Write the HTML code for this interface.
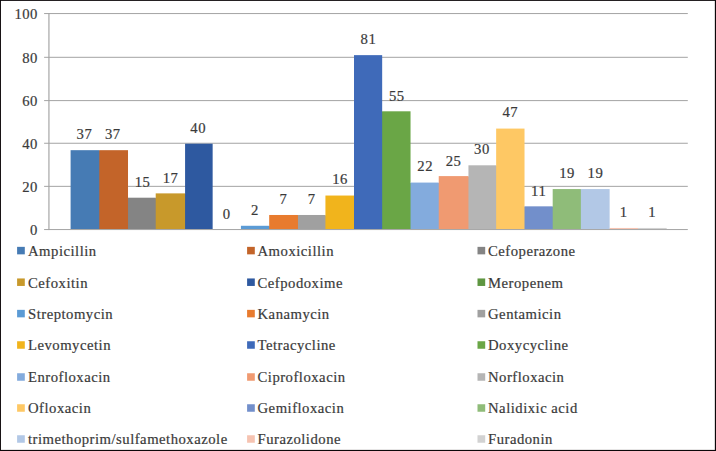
<!DOCTYPE html>
<html><head><meta charset="utf-8"><title>Chart</title>
<style>
html,body{margin:0;padding:0;background:#fff;}
body{width:716px;height:451px;overflow:hidden;}
svg{display:block;position:absolute;left:0;top:0;}
text{font-family:"Liberation Serif",serif;font-size:14.7px;fill:#3a3a3a;stroke:#3a3a3a;stroke-width:0.2px;}
.e{text-anchor:end;letter-spacing:0.45px;font-size:15.2px}
.m{text-anchor:middle;letter-spacing:0.55px;font-size:15.2px}
.l{letter-spacing:0.5px}
</style></head><body>
<svg width="716" height="451" viewBox="0 0 716 451">
<rect x="0" y="0" width="716" height="451" fill="#ffffff"/>
<rect x="48.10" y="13.05" width="1.6" height="217" fill="#bdbdbd"/>
<g fill="#a4a4a4">
<rect x="44.10" y="185.85" width="643.70" height="1"/>
<rect x="44.10" y="142.75" width="643.70" height="1"/>
<rect x="44.10" y="100.10" width="643.70" height="1"/>
<rect x="44.10" y="56.80" width="643.70" height="1"/>
<rect x="44.10" y="13.05" width="643.70" height="1"/>
</g>
<g class="e">
<text x="37.85" y="235.05">0</text>
<text x="37.85" y="191.85">20</text>
<text x="37.85" y="148.75">40</text>
<text x="37.85" y="106.10">60</text>
<text x="37.85" y="62.80">80</text>
<text x="37.85" y="19.05">100</text>
</g>
<rect x="70.60" y="150.18" width="28.70" height="78.92" fill="#467BB4"/>
<rect x="99" y="150.68" width="1" height="78.42" fill="#467BB4"/>
<rect x="99.30" y="150.18" width="28.71" height="78.92" fill="#C36429"/>
<rect x="128" y="198.20" width="1" height="30.90" fill="#C36429"/>
<rect x="128.01" y="197.70" width="27.70" height="31.40" fill="#848484"/>
<rect x="155" y="198.20" width="1" height="30.90" fill="#848484"/>
<rect x="155.71" y="193.38" width="29.37" height="35.72" fill="#C8992B"/>
<rect x="185" y="193.88" width="1" height="35.22" fill="#C8992B"/>
<rect x="185.08" y="143.70" width="27.57" height="85.40" fill="#2E59A0"/>
<rect x="240.92" y="225.78" width="28.27" height="3.32" fill="#5B9BD5"/>
<rect x="269" y="226.28" width="1" height="2.82" fill="#5B9BD5"/>
<rect x="269.19" y="214.98" width="28.77" height="14.12" fill="#E87B2E"/>
<rect x="297" y="215.48" width="1" height="13.62" fill="#E87B2E"/>
<rect x="297.96" y="214.98" width="27.47" height="14.12" fill="#A0A0A0"/>
<rect x="325" y="215.48" width="1" height="13.62" fill="#A0A0A0"/>
<rect x="325.43" y="195.54" width="28.57" height="33.56" fill="#F1B41C"/>
<rect x="353" y="196.04" width="1" height="33.06" fill="#F1B41C"/>
<rect x="354.00" y="55.14" width="28.17" height="173.96" fill="#3F6AB9"/>
<rect x="382" y="111.80" width="1" height="117.30" fill="#3F6AB9"/>
<rect x="382.17" y="111.30" width="28.37" height="117.80" fill="#6AA646"/>
<rect x="410" y="183.08" width="1" height="46.02" fill="#6AA646"/>
<rect x="410.54" y="182.58" width="28.20" height="46.52" fill="#83ABDD"/>
<rect x="438" y="183.08" width="1" height="46.02" fill="#83ABDD"/>
<rect x="438.74" y="176.10" width="29.71" height="53.00" fill="#F09A71"/>
<rect x="468" y="176.60" width="1" height="52.50" fill="#F09A71"/>
<rect x="468.45" y="165.30" width="27.70" height="63.80" fill="#B5B5B5"/>
<rect x="496" y="165.80" width="1" height="63.30" fill="#B5B5B5"/>
<rect x="496.15" y="128.58" width="28.37" height="100.52" fill="#FEC864"/>
<rect x="524" y="206.84" width="1" height="22.26" fill="#FEC864"/>
<rect x="524.52" y="206.34" width="28.17" height="22.76" fill="#728FCB"/>
<rect x="552" y="206.84" width="1" height="22.26" fill="#728FCB"/>
<rect x="552.69" y="189.06" width="28.17" height="40.04" fill="#8FBC79"/>
<rect x="580" y="189.56" width="1" height="39.54" fill="#8FBC79"/>
<rect x="580.86" y="189.06" width="28.77" height="40.04" fill="#B2C8E6"/>
<rect x="609" y="228.44" width="1" height="0.66" fill="#B2C8E6"/>
<rect x="609.63" y="227.94" width="28.37" height="1.16" fill="#F6C3B1"/>
<rect x="638" y="228.44" width="1" height="0.66" fill="#F6C3B1"/>
<rect x="638.00" y="227.94" width="28.67" height="1.16" fill="#D2D2D2"/>
<rect x="44.10" y="229.05" width="643.70" height="1" fill="#a4a4a4"/>
<g class="m">
<text x="84.48" y="139.48">37</text>
<text x="112.86" y="139.48">37</text>
<text x="142.53" y="186.50">15</text>
<text x="170.59" y="182.58">17</text>
<text x="198.26" y="132.50">40</text>
<text x="226.63" y="219.20">0</text>
<text x="255.00" y="215.18">2</text>
<text x="283.38" y="204.28">7</text>
<text x="311.75" y="204.28">7</text>
<text x="340.12" y="184.14">16</text>
<text x="368.48" y="44.14">81</text>
<text x="396.85" y="100.90">55</text>
<text x="425.22" y="171.28">22</text>
<text x="453.59" y="166.10">25</text>
<text x="481.96" y="154.30">30</text>
<text x="510.33" y="117.18">47</text>
<text x="538.70" y="196.34">11</text>
<text x="567.07" y="178.46">19</text>
<text x="595.44" y="178.46">19</text>
<text x="623.81" y="217.04">1</text>
<text x="652.18" y="217.04">1</text>
</g>
<g class="l">
<rect x="17.10" y="246.85" width="7.7" height="7.5" fill="#467BB4"/>
<text x="28.00" y="255.90">Ampicillin</text>
<rect x="247.10" y="246.85" width="7.7" height="7.5" fill="#C36429"/>
<text x="257.50" y="255.90">Amoxicillin</text>
<rect x="477.50" y="246.85" width="7.7" height="7.5" fill="#848484"/>
<text x="488.00" y="255.90">Cefoperazone</text>
<rect x="17.10" y="278.45" width="7.7" height="7.5" fill="#C8992B"/>
<text x="28.00" y="287.50">Cefoxitin</text>
<rect x="247.10" y="278.45" width="7.7" height="7.5" fill="#2E59A0"/>
<text x="257.50" y="287.50">Cefpodoxime</text>
<rect x="477.50" y="278.45" width="7.7" height="7.5" fill="#5E9641"/>
<text x="488.00" y="287.50">Meropenem</text>
<rect x="17.10" y="309.85" width="7.7" height="7.5" fill="#5B9BD5"/>
<text x="28.00" y="318.90">Streptomycin</text>
<rect x="247.10" y="309.85" width="7.7" height="7.5" fill="#E87B2E"/>
<text x="257.50" y="318.90">Kanamycin</text>
<rect x="477.50" y="309.85" width="7.7" height="7.5" fill="#A0A0A0"/>
<text x="488.00" y="318.90">Gentamicin</text>
<rect x="17.10" y="341.25" width="7.7" height="7.5" fill="#F1B41C"/>
<text x="28.00" y="350.30">Levomycetin</text>
<rect x="247.10" y="341.25" width="7.7" height="7.5" fill="#3F6AB9"/>
<text x="257.50" y="350.30">Tetracycline</text>
<rect x="477.50" y="341.25" width="7.7" height="7.5" fill="#6AA646"/>
<text x="488.00" y="350.30">Doxycycline</text>
<rect x="17.10" y="373.25" width="7.7" height="7.5" fill="#83ABDD"/>
<text x="28.00" y="382.30">Enrofloxacin</text>
<rect x="247.10" y="373.25" width="7.7" height="7.5" fill="#F09A71"/>
<text x="257.50" y="382.30">Ciprofloxacin</text>
<rect x="477.50" y="373.25" width="7.7" height="7.5" fill="#B5B5B5"/>
<text x="488.00" y="382.30">Norfloxacin</text>
<rect x="17.10" y="404.25" width="7.7" height="7.5" fill="#FEC864"/>
<text x="28.00" y="413.30">Ofloxacin</text>
<rect x="247.10" y="404.25" width="7.7" height="7.5" fill="#728FCB"/>
<text x="257.50" y="413.30">Gemifloxacin</text>
<rect x="477.50" y="404.25" width="7.7" height="7.5" fill="#8FBC79"/>
<text x="488.00" y="413.30">Nalidixic acid</text>
<rect x="17.10" y="435.25" width="7.7" height="7.5" fill="#B2C8E6"/>
<text x="28.00" y="444.30">trimethoprim/sulfamethoxazole</text>
<rect x="247.10" y="435.25" width="7.7" height="7.5" fill="#F6C3B1"/>
<text x="257.50" y="444.30">Furazolidone</text>
<rect x="477.50" y="435.25" width="7.7" height="7.5" fill="#D2D2D2"/>
<text x="488.00" y="444.30">Furadonin</text>
</g>
<g fill="#0c0709"><rect x="0" y="0" width="716" height="0.9"/><rect x="0" y="0" width="0.95" height="451"/><rect x="714.85" y="0" width="1.15" height="451"/><rect x="0" y="449.9" width="716" height="1.1"/></g>
</svg>
</body></html>
